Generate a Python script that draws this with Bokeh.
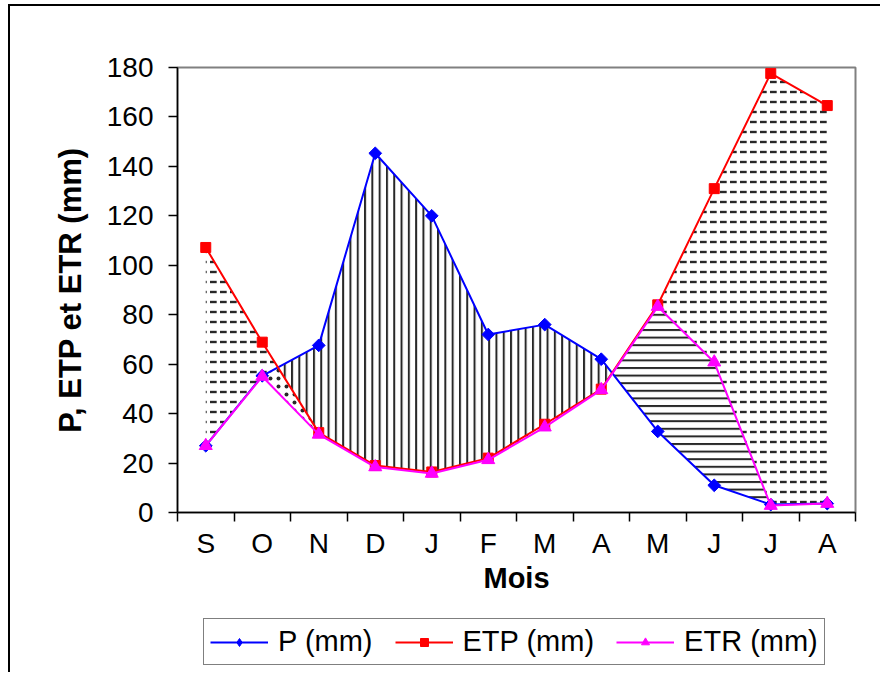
import numpy as np
from bokeh.plotting import figure
from bokeh.layouts import column
from bokeh.models import (Range1d, FixedTicker, SingleIntervalTicker, Legend, LegendItem)
from bokeh.embed import file_html
from bokeh.resources import INLINE

months = ["S", "O", "N", "D", "J", "F", "M", "A", "M", "J", "J", "A"]
P = [27, 55.3, 67.6, 145.3, 120, 72, 76, 62, 32.8, 11, 3.2, 3.6]
ETP = [107.2, 68.9, 32.3, 19, 16.4, 22, 35.7, 49.9, 84, 131, 177.6, 164.6]
ETR = [27, 55, 31.6, 18.4, 15.8, 21.3, 34.5, 49.6, 83.3, 60.8, 2.8, 3.6]
labels = ["P (mm)", "ETP (mm)", "ETR (mm)"]

xi = list(range(len(months)))

# fill boundaries follow the straight segments between the data points
xs = np.linspace(0, len(months) - 1, 2201)
p_i = np.interp(xs, xi, P)
etp_i = np.interp(xs, xi, ETP)
etr_i = np.interp(xs, xi, ETR)

dash_lo = np.maximum(p_i, etr_i)
dash_hi = np.maximum(etp_i, dash_lo)
vert_lo = etp_i
vert_hi = np.maximum(p_i, etp_i)
dot_lo = etr_i
dot_hi = np.maximum(np.minimum(p_i, etp_i), etr_i)
horz_lo = p_i
horz_hi = np.maximum(etr_i, p_i)

FONT = "Liberation Sans"
W = 870

p = figure(width=W, height=606, output_backend="svg", toolbar_location=None,
           x_range=Range1d(-0.5, len(months) - 0.5), y_range=Range1d(0, 180),
           min_border_left=167, min_border_right=25, min_border_top=61,
           min_border_bottom=100)
p.outline_line_color = "#808080"
p.outline_line_width = 2
p.xgrid.visible = False
p.ygrid.visible = False

hatch_common = dict(fill_alpha=0, hatch_color="#111111", hatch_alpha=0.9)
p.varea(x=xs, y1=dash_lo, y2=dash_hi, hatch_pattern="horizontal_dash",
        hatch_scale=10, hatch_weight=2.4, **hatch_common)
p.varea(x=xs, y1=vert_lo, y2=vert_hi, hatch_pattern="vertical_line",
        hatch_scale=7.3, hatch_weight=2, **hatch_common)
p.varea(x=xs, y1=dot_lo, y2=dot_hi, hatch_pattern="dot",
        hatch_scale=8, hatch_weight=1, **hatch_common)
p.varea(x=xs, y1=horz_lo, y2=horz_hi, hatch_pattern="horizontal_line",
        hatch_scale=7.6, hatch_weight=2, **hatch_common)

line_styles = [("#0000FF", dict(marker="square", angle=np.pi / 4, size=9)),
               ("#FF0000", dict(marker="square", size=10)),
               ("#FF00FF", dict(marker="triangle", size=13))]
legend_markers = [dict(marker="diamond", size=14),
                  dict(marker="square", size=10),
                  dict(marker="triangle", size=13)]

for series, (col, mk) in zip((P, ETP, ETR), line_styles):
    p.line(xi, series, line_color=col, line_width=2)
    p.scatter(xi, series, fill_color=col, line_color=col, **mk)

# axes
xa = p.xaxis[0]
xa.ticker = FixedTicker(ticks=xi, minor_ticks=[i - 0.5 for i in range(len(months) + 1)])
xa.major_label_overrides = {i: m for i, m in enumerate(months)}
xa.major_tick_out = 0
xa.major_tick_in = 0
xa.minor_tick_out = 9
xa.minor_tick_in = 0
xa.minor_tick_line_color = "black"
xa.minor_tick_line_width = 1.5
xa.axis_label = "Mois"
xa.major_label_standoff = 6

ya = p.yaxis[0]
ya.ticker = SingleIntervalTicker(interval=20, num_minor_ticks=0)
ya.major_tick_out = 9
ya.major_tick_in = 0
ya.minor_tick_out = 0
ya.axis_label = "P, ETP et ETR (mm)"
ya.major_label_standoff = 15
ya.axis_label_standoff = 16

for ax in (xa, ya):
    ax.axis_line_color = "black"
    ax.axis_line_width = 1.5
    ax.major_tick_line_color = "black"
    ax.major_tick_line_width = 1.5
    ax.major_label_text_font = FONT
    ax.major_label_text_font_size = "28px"
    ax.major_label_text_color = "black"
    ax.axis_label_text_font = FONT
    ax.axis_label_text_font_style = "bold"
    ax.axis_label_text_color = "black"
xa.axis_label_text_font_size = "29px"
ya.axis_label_text_font_size = "31px"
xa.axis_label_standoff = 0

# legend in its own strip below the chart (frames of the column are aligned)
q = figure(width=W, height=60, output_backend="svg", toolbar_location=None,
           x_range=Range1d(0, 1), y_range=Range1d(0, 1),
           min_border_left=0, min_border_right=0, min_border_top=0,
           min_border_bottom=0, x_axis_type=None, y_axis_type=None)
q.outline_line_color = None
q.xgrid.visible = False
q.ygrid.visible = False
items = []
for lab, (col, _), mk in zip(labels, line_styles, legend_markers):
    # proxies kept outside the visible range, only their legend glyph shows
    rl = q.line([5, 6], [5, 5], line_color=col, line_width=2)
    rs = q.scatter([5], [5], fill_color=col, line_color=col, **mk)
    items.append(LegendItem(label=lab, renderers=[rl, rs]))

legend = Legend(items=items, orientation="horizontal", location=(26, 7))
legend.label_text_font = FONT
legend.label_text_font_size = "29px"
legend.label_text_color = "black"
legend.glyph_width = 58
legend.label_standoff = 10
legend.spacing = 22
legend.padding = 6
legend.margin = 0
legend.border_line_color = "black"
legend.border_line_width = 1.5
legend.background_fill_alpha = 1
q.add_layout(legend, "center")

layout = column(p, q, spacing=0)
layout.styles = {"border-left": "2px solid black", "border-top": "2px solid black",
                 "margin-left": "8px", "margin-top": "4px"}

open("out.html", "w").write(file_html(layout, INLINE))
